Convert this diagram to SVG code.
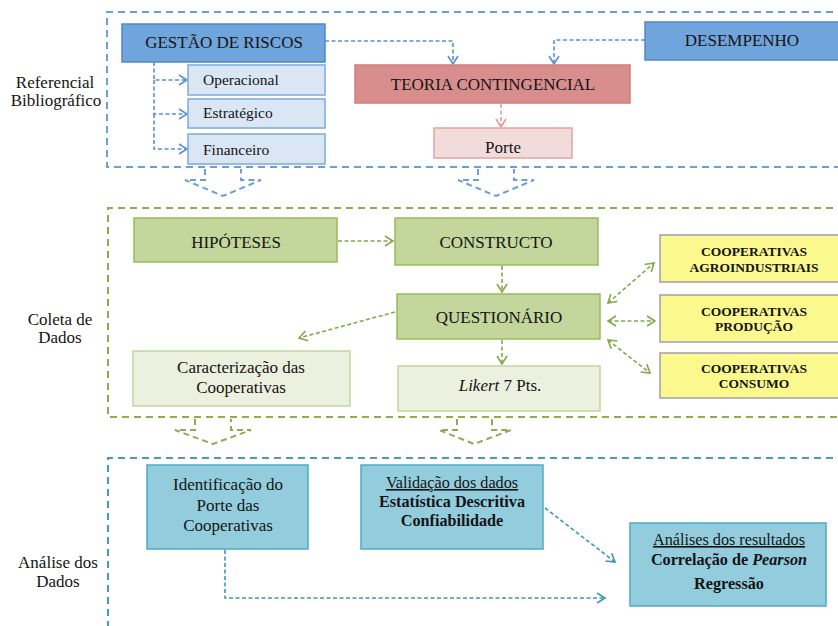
<svg xmlns="http://www.w3.org/2000/svg" width="838" height="626" viewBox="0 0 838 626" font-family="'Liberation Serif', 'DejaVu Serif', serif">
<defs>
<style>
text{font-family:'Liberation Serif','DejaVu Serif',serif;fill:#141414;text-anchor:middle}
.lbl{font-size:17px}
.big{font-size:17px}
.sm{font-size:15.5px;text-anchor:start}
.md{font-size:16.2px}
.yb{font-size:13.5px;font-weight:bold}
.b{font-weight:bold}
.cont{fill:none;stroke-width:2;stroke-dasharray:7 5}
.conn{fill:none;stroke-width:1.6;stroke-dasharray:4 2.5}
.chev{fill:none;stroke-width:2;stroke-dasharray:6 4}
</style>
<marker id="ab" markerWidth="12" markerHeight="12" refX="9" refY="6" orient="auto" markerUnits="userSpaceOnUse"><path d="M1,1 L9,6 L1,11" fill="none" stroke="#5a8fd0" stroke-width="1.6"/></marker>
<marker id="ap" markerWidth="12" markerHeight="12" refX="9" refY="6" orient="auto" markerUnits="userSpaceOnUse"><path d="M1,1 L9,6 L1,11" fill="none" stroke="#e59a9a" stroke-width="1.6"/></marker>
<marker id="ag" markerWidth="12" markerHeight="12" refX="9" refY="6" orient="auto" markerUnits="userSpaceOnUse"><path d="M1,1 L9,6 L1,11" fill="none" stroke="#86a84a" stroke-width="1.6"/></marker>
<marker id="ags" markerWidth="12" markerHeight="12" refX="3" refY="6" orient="auto" markerUnits="userSpaceOnUse"><path d="M11,1 L3,6 L11,11" fill="none" stroke="#86a84a" stroke-width="1.6"/></marker>
<marker id="at" markerWidth="12" markerHeight="12" refX="9" refY="6" orient="auto" markerUnits="userSpaceOnUse"><path d="M1,1 L9,6 L1,11" fill="none" stroke="#3f98b0" stroke-width="1.6"/></marker>
</defs>
<rect width="838" height="626" fill="#ffffff"/>

<g id="containers">
<path class="cont" stroke="#6a9fdc" d="M845,12 L107,12 L107,167 L845,167"/>
<path class="cont" stroke="#8fac55" d="M845,208 L108,208 L108,417 L845,417"/>
<path class="cont" stroke="#4a9bb5" d="M845,458 L108,458 L108,630"/>
</g>

<g id="section-labels">
<text class="lbl" x="55" y="88">Referencial</text>
<text class="lbl" x="56" y="106">Bibliográfico</text>
<text class="lbl" x="60" y="325">Coleta de</text>
<text class="lbl" x="60" y="343">Dados</text>
<text class="lbl" x="58" y="568">Análise dos</text>
<text class="lbl" x="58" y="587">Dados</text>
</g>

<g id="chevrons">
<path class="chev" stroke="#6a9fdc" d="M205,169 L205,180 L185,180 L223,196 L261,180 L241,180 L241,169"/>
<path class="chev" stroke="#6a9fdc" d="M478,169 L478,180 L458,180 L496,196 L534,180 L514,180 L514,169"/>
<path class="chev" stroke="#8fac55" d="M195,419 L195,430 L175,430 L213,444 L251,430 L231,430 L231,419"/>
<path class="chev" stroke="#8fac55" d="M457,419 L457,430 L439,430 L474,444 L511,430 L492,430 L492,419"/>
</g>

<g id="connectors">
<path class="conn" stroke="#5a8fd0" d="M154,62 L154,80 L187,80" marker-end="url(#ab)"/>
<path class="conn" stroke="#5a8fd0" d="M154,80 L154,114 L187,114" marker-end="url(#ab)"/>
<path class="conn" stroke="#5a8fd0" d="M154,114 L154,149 L187,149" marker-end="url(#ab)"/>
<path class="conn" stroke="#5a8fd0" d="M325,41 L453,41 L453,64" marker-end="url(#ab)"/>
<path class="conn" stroke="#5a8fd0" d="M645,40 L554,40 L554,64" marker-end="url(#ab)"/>
<path class="conn" stroke="#e59a9a" d="M501,104 L501,127" marker-end="url(#ap)"/>
<path class="conn" stroke="#86a84a" d="M338,241 L393,241" marker-end="url(#ag)"/>
<path class="conn" stroke="#86a84a" d="M502,266 L502,292" marker-end="url(#ag)"/>
<path class="conn" stroke="#86a84a" d="M502,340 L502,364" marker-end="url(#ag)"/>
<path class="conn" stroke="#86a84a" d="M395,312 L299,338" marker-end="url(#ag)"/>
<path class="conn" stroke="#86a84a" d="M608,303 L654,263" marker-start="url(#ags)" marker-end="url(#ag)"/>
<path class="conn" stroke="#86a84a" d="M608,321 L655,321" marker-start="url(#ags)" marker-end="url(#ag)"/>
<path class="conn" stroke="#86a84a" d="M608,340 L650,373" marker-start="url(#ags)" marker-end="url(#ag)"/>
<path class="conn" stroke="#3f98b0" d="M225,550 L225,598 L605,598" marker-end="url(#at)"/>
<path class="conn" stroke="#3f98b0" d="M545,508 L615,562" marker-end="url(#at)"/>
</g>

<g id="gestao">
<rect x="122" y="24" width="203" height="38" fill="#70a4dc" stroke="#4f88c6" stroke-width="1.5"/>
<text class="big" x="224" y="48">GESTÃO DE RISCOS</text>
</g>
<g id="operacional">
<rect x="188" y="65" width="137" height="30" fill="#dae6f3" stroke="#7aabdd" stroke-width="1.5"/>
<text class="sm" x="203" y="85">Operacional</text>
</g>
<g id="estrategico">
<rect x="188" y="99" width="137" height="29" fill="#dae6f3" stroke="#7aabdd" stroke-width="1.5"/>
<text class="sm" x="203" y="118">Estratégico</text>
</g>
<g id="financeiro">
<rect x="188" y="134" width="137" height="30" fill="#dae6f3" stroke="#7aabdd" stroke-width="1.5"/>
<text class="sm" x="203" y="155">Financeiro</text>
</g>
<g id="teoria">
<rect x="355" y="65" width="275" height="38" fill="#d98e8e" stroke="#cf7d7d" stroke-width="1.5"/>
<text class="big" x="493" y="90">TEORIA CONTINGENCIAL</text>
</g>
<g id="porte">
<rect x="434" y="128" width="138" height="30" fill="#f2dcdb" stroke="#e5a3a3" stroke-width="1.5"/>
<text class="big" x="503" y="153">Porte</text>
</g>
<g id="desempenho">
<rect x="645" y="22" width="200" height="38" fill="#70a4dc" stroke="#4f88c6" stroke-width="1.5"/>
<text class="big" x="742" y="46">DESEMPENHO</text>
</g>

<g id="hipoteses">
<rect x="134" y="218" width="203" height="44" fill="#c3d69b" stroke="#9bbb59" stroke-width="1.5"/>
<text class="big" x="236" y="248">HIPÓTESES</text>
</g>
<g id="constructo">
<rect x="395" y="218" width="203" height="47" fill="#c3d69b" stroke="#9bbb59" stroke-width="1.5"/>
<text class="big" x="496" y="248">CONSTRUCTO</text>
</g>
<g id="questionario">
<rect x="397" y="294" width="203" height="45" fill="#c3d69b" stroke="#9bbb59" stroke-width="1.5"/>
<text class="big" x="499" y="323">QUESTIONÁRIO</text>
</g>
<g id="likert">
<rect x="398" y="366" width="202" height="45" fill="#ebf1de" stroke="#c3d69b" stroke-width="1.5"/>
<text class="big" x="500" y="391"><tspan font-style="italic">Likert</tspan> 7 Pts.</text>
</g>
<g id="caracterizacao">
<rect x="133" y="351" width="217" height="55" fill="#ebf1de" stroke="#c3d69b" stroke-width="1.5"/>
<text class="big" x="241" y="373">Caracterização das</text>
<text class="big" x="241" y="393">Cooperativas</text>
</g>
<g id="coop-agro">
<rect x="660" y="235" width="185" height="47" fill="#fbf98e" stroke="#a09cb0" stroke-width="1.5"/>
<text class="yb" x="754" y="256">COOPERATIVAS</text>
<text class="yb" x="754" y="272">AGROINDUSTRIAIS</text>
</g>
<g id="coop-producao">
<rect x="660" y="295" width="185" height="47" fill="#fbf98e" stroke="#a09cb0" stroke-width="1.5"/>
<text class="yb" x="754" y="316">COOPERATIVAS</text>
<text class="yb" x="754" y="331">PRODUÇÃO</text>
</g>
<g id="coop-consumo">
<rect x="660" y="353" width="185" height="45" fill="#fbf98e" stroke="#a09cb0" stroke-width="1.5"/>
<text class="yb" x="754" y="373">COOPERATIVAS</text>
<text class="yb" x="754" y="388">CONSUMO</text>
</g>

<g id="identificacao">
<rect x="147" y="465" width="161" height="84" fill="#93cddd" stroke="#4bacc6" stroke-width="1.5"/>
<text class="big" x="228" y="490">Identificação do</text>
<text class="big" x="228" y="511">Porte das</text>
<text class="big" x="228" y="531">Cooperativas</text>
</g>
<g id="validacao">
<rect x="361" y="465" width="182" height="84" fill="#93cddd" stroke="#4bacc6" stroke-width="1.5"/>
<text class="md" x="452" y="488" text-decoration="underline">Validação dos dados</text>
<text class="md b" x="452" y="507">Estatística Descritiva</text>
<text class="md b" x="452" y="526">Confiabilidade</text>
</g>
<g id="analises">
<rect x="630" y="523" width="196" height="83" fill="#93cddd" stroke="#4bacc6" stroke-width="1.5"/>
<text class="md" x="729" y="545" text-decoration="underline">Análises dos resultados</text>
<text class="md b" x="729" y="565">Correlação de <tspan font-style="italic">Pearson</tspan></text>
<text class="md b" x="729" y="589">Regressão</text>
</g>
</svg>
